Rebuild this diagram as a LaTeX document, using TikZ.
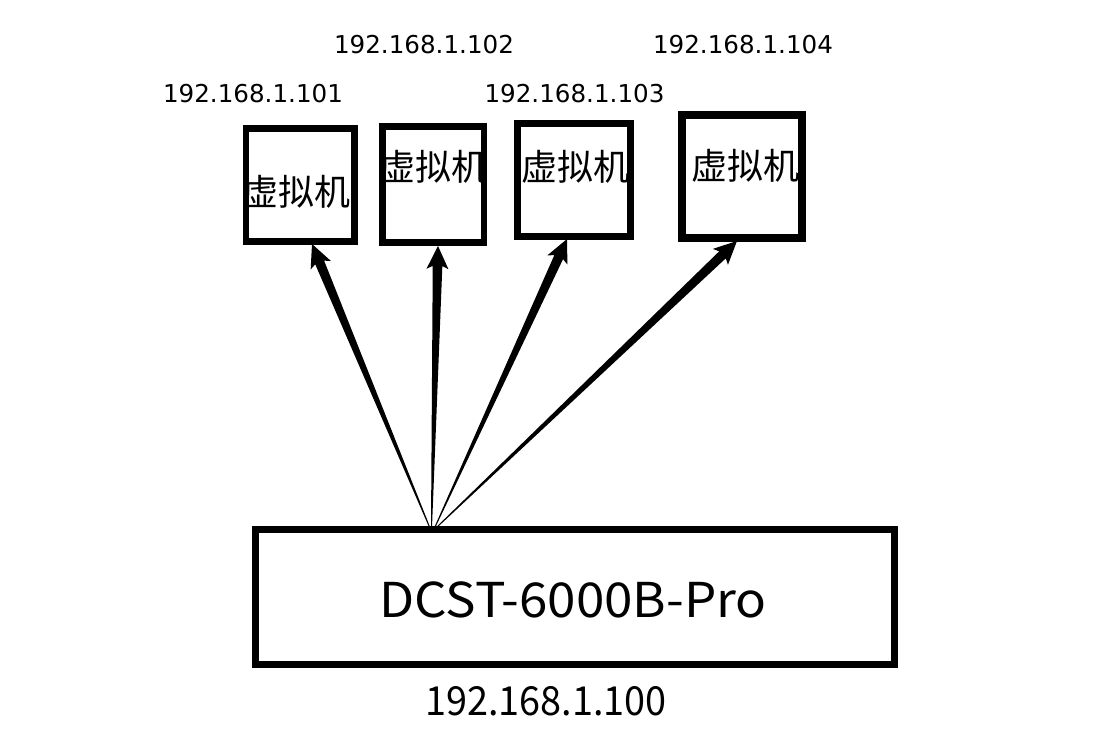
\documentclass[tikz,border=0pt]{standalone}
\usepackage{fontspec}
\usetikzlibrary{calc}
\newfontfamily\cjk{Noto Sans CJK SC}
\newfontfamily\cjkwide[FakeStretch=1.065]{Noto Sans CJK SC}
\newfontfamily\cjknarrow[FakeStretch=0.945]{Noto Sans CJK SC}
\newfontfamily\dvs{DejaVu Sans}
\tikzset{
  vmbox/.style={draw=black, line width=6.7pt, rectangle, inner sep=0pt, outer sep=0pt, fill=white},
  mainbox/.style={draw=black, line width=7pt, rectangle, inner sep=0pt, outer sep=0pt},
  vmtext/.style={inner sep=0pt, font=\cjk\fontsize{36}{40}\selectfont},
  iplabel/.style={inner sep=0pt, font=\dvs\fontsize{24.6}{28}\selectfont},
  bigtext/.style={inner sep=0pt, font=\cjkwide\fontsize{48}{54}\selectfont},
  iptext/.style={inner sep=0pt, font=\cjknarrow\fontsize{40}{46}\selectfont},
}
\newcommand\taperarrow[2]{%
  \path coordinate (hb) at ($(#2)!20pt!(#1)$) coordinate (hc) at ($(#2)!23pt!(#1)$);
  \fill[black] ($(#1)!0.5pt!90:(#2)$) -- ($(hb)!4.8pt!90:(#2)$) -- ($(hc)!11pt!90:(#2)$)
    -- (#2) -- ($(hc)!11pt!-90:(#2)$) -- ($(hb)!4.8pt!-90:(#2)$) -- ($(#1)!0.5pt!-90:(#2)$) -- cycle;
}
\begin{document}
\begin{tikzpicture}[x=1pt,y=-1pt]
\useasboundingbox (0,0) rectangle (1101,733);
% boxes
\node[vmbox, minimum width=108.5pt, minimum height=113pt] (v1) at (300.25,185) {};
\node[vmbox, minimum width=101.5pt, minimum height=116pt] (v2) at (433.25,184.5) {};
\node[vmbox, minimum width=113pt, minimum height=113pt] (v3) at (574,180) {};
\node[vmbox, line width=8pt, minimum width=120pt, minimum height=123pt] (v4) at (742,176.5) {};
\node[mainbox, minimum width=639pt, minimum height=135pt] (main) at (574.7,596.7) {};
% box texts
\node[vmtext] (v1t) at (296,192) {虚拟机};
\node[vmtext] (v2t) at (433,167) {虚拟机};
\node[vmtext] (v3t) at (575,167) {虚拟机};
\node[vmtext] (v4t) at (745,166) {虚拟机};
\node[bigtext] (maint) at (573,599.5) {DCST-6000B-Pro};
\node[iptext] (mainip) at (546,701.7) {192.168.1.100};
% ip labels
\node[iplabel] (ip1) at (253,94) {192.168.1.101};
\node[iplabel] (ip2) at (424,45) {192.168.1.102};
\node[iplabel] (ip3) at (574.5,94) {192.168.1.103};
\node[iplabel] (ip4) at (743,45) {192.168.1.104};
% arrow ends
\coordinate (s1) at (429.5,527);
\coordinate (s2) at (431.5,527);
\coordinate (s3) at (435,527);
\coordinate (s4) at (437,527);
\coordinate (t1) at ($(v1.south)+(11.75,2.5)$);
\coordinate (t2) at ($(v2.south)+(4.75,3.5)$);
\coordinate (t3) at ($(v3.south)+(-7,2.5)$);
\coordinate (t4) at ($(v4.south)+(-5,3)$);
\taperarrow{s1}{t1}
\taperarrow{s2}{t2}
\taperarrow{s3}{t3}
\taperarrow{s4}{t4}
\end{tikzpicture}
\end{document}
